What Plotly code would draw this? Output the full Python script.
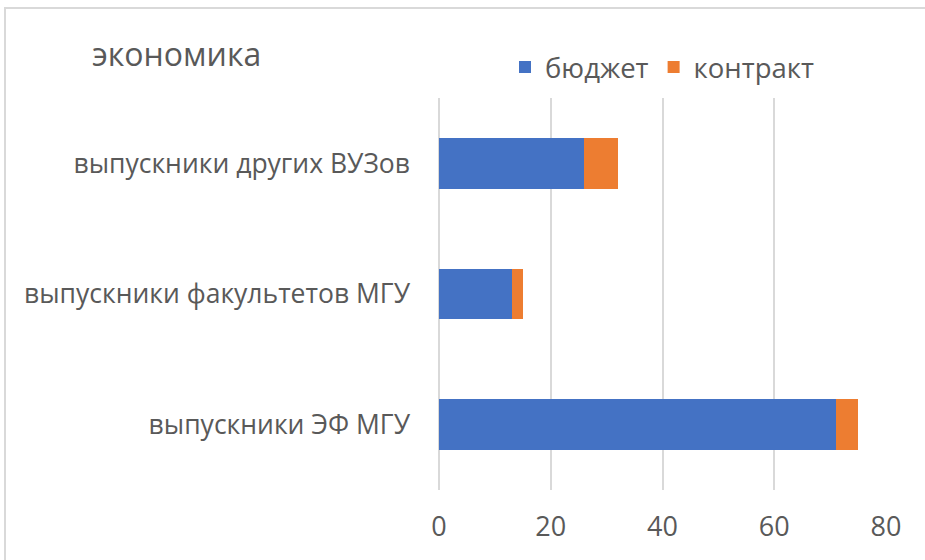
import plotly.graph_objects as go

categories = ["выпускники ЭФ МГУ", "выпускники факультетов МГУ", "выпускники других ВУЗов"]
budget = [71, 13, 26]
contract = [4, 2, 6]
series_names = ["бюджет", "контракт"]
x_ticks = [0, 20, 40, 60, 80]
title_text = "экономика"

W, H = 925, 560
L, R, T, B = 439, 39, 98, 70
FONT = "Open Sans"
GRAY = "#595959"

fig = go.Figure()
fig.add_trace(go.Bar(y=categories, x=budget, name=series_names[0], orientation="h",
                     marker=dict(color="#4472C4", line=dict(width=0))))
fig.add_trace(go.Bar(y=categories, x=contract, name=series_names[1], orientation="h",
                     marker=dict(color="#ED7D31", line=dict(width=0))))

pw = W - L - R
ph = H - T - B
fig.update_layout(
    width=W, height=H,
    margin=dict(l=L, r=R, t=T, b=B, autoexpand=False),
    barmode="stack",
    bargap=0.61,
    paper_bgcolor="white",
    plot_bgcolor="white",
    font=dict(family=FONT, color=GRAY, size=27),
    title=dict(text=title_text, x=92 / W, y=1 - 55 / H, xref="container", yref="container",
               xanchor="left", yanchor="middle", font=dict(size=32, color=GRAY, family=FONT)),
    legend=dict(orientation="h", x=(505 - L) / pw, y=1 + (98 - 67) / ph,
                xanchor="left", yanchor="middle", font=dict(size=27.5, color=GRAY),
                itemwidth=30, traceorder="normal", bgcolor="rgba(0,0,0,0)"),
    xaxis=dict(range=[0, 80], tickvals=x_ticks, showgrid=True, gridcolor="#D9D9D9", gridwidth=2,
               zeroline=True, zerolinecolor="#D9D9D9", zerolinewidth=2, showline=False,
               ticks="", ticklabelstandoff=18, tickfont=dict(size=27, color=GRAY), fixedrange=True),
    yaxis=dict(showgrid=False, showline=False, ticks="", ticklabelstandoff=28,
               tickfont=dict(size=26.5, color=GRAY), fixedrange=True),
    showlegend=True,
)
fig.add_shape(type="rect", xref="paper", yref="paper",
              x0=(5 - L) / pw, x1=(W + 20 - L) / pw,
              y0=-(H + 20 - T - ph) / ph, y1=1 + (T - 8) / ph,
              line=dict(color="#D9D9D9", width=2), fillcolor="rgba(0,0,0,0)", layer="below")

fig.write_html("out.html", config={"displayModeBar": False, "staticPlot": True},
               post_script="document.body.style.margin='0';document.body.style.overflow='hidden';")
